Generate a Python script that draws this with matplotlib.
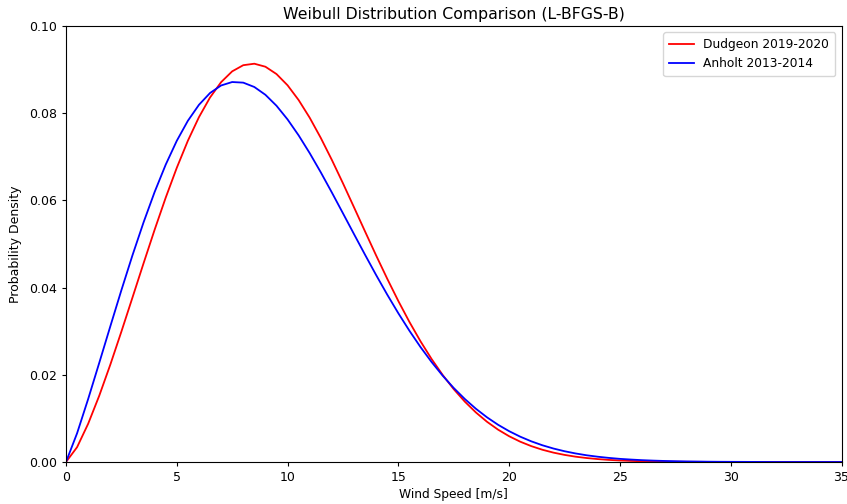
import numpy as np
import matplotlib
matplotlib.use("Agg")
import matplotlib.pyplot as plt

# Wind speed grid [m/s]
wind_speed = [i * 0.5 for i in range(71)]

# Probability density values
dudgeon = [0,0.0034,0.00877,0.0152,0.02233,0.02991,0.03772,0.04557,0.05327,0.06063,0.06748,0.07368,0.07909,0.0836,0.08712,0.0896,0.09101,0.09135,0.09066,0.08898,0.0864,0.08301,0.07895,0.07432,0.06927,0.06392,0.0584,0.05284,0.04734,0.04201,0.03691,0.03212,0.02768,0.02362,0.01996,0.0167,0.01384,0.01136,0.00923,0.00742,0.00591,0.00466,0.00364,0.00281,0.00215,0.00163,0.00122,0.00091,0.00067,0.00048,0.00035,0.00025,0.00017,0.00012,0.00008,0.00006,0.00004,0.00003,0.00002,0.00001,0,0,0,0,0,0,0,0,0,0,0]
anholt = [0,0.00659,0.01445,0.02273,0.03112,0.03941,0.04741,0.05496,0.06193,0.0682,0.07367,0.07826,0.08192,0.08463,0.08636,0.08715,0.08701,0.08601,0.08422,0.08171,0.07857,0.07491,0.07083,0.06643,0.0618,0.05704,0.05225,0.0475,0.04285,0.03837,0.03411,0.0301,0.02636,0.02293,0.0198,0.01697,0.01445,0.01221,0.01025,0.00854,0.00707,0.00581,0.00474,0.00384,0.00309,0.00247,0.00196,0.00154,0.00121,0.00094,0.00072,0.00056,0.00042,0.00032,0.00024,0.00018,0.00013,0.0001,0.00007,0.00005,0.00004,0.00003,0.00002,0.00001,0,0,0,0,0,0,0]

labels = ['Dudgeon 2019-2020', 'Anholt 2013-2014']
title = 'Weibull Distribution Comparison (L-BFGS-B)'

W, H = 847, 504
fig = plt.figure(figsize=(W/100, H/100), dpi=100)
ax = fig.add_axes([66/W, 1-462/H, (841.5-66)/W, (462-26)/H])
ax.plot(wind_speed, dudgeon, color='red', lw=1.3, label=labels[0])
ax.plot(wind_speed, anholt, color='blue', lw=1.3, label=labels[1])
ax.set_xlim(0, 35)
ax.set_ylim(0, 0.1)
ax.set_title(title, fontsize=11.3, pad=5)
ax.set_xlabel('Wind Speed [m/s]', fontsize=8.8, labelpad=3)
ax.set_ylabel('Probability Density', fontsize=9, labelpad=5)
ax.tick_params(labelsize=9, length=3, width=0.8)
for s in ax.spines.values():
    s.set_linewidth(0.8)
ax.legend(loc='upper right', fontsize=8.8, handlelength=2.0, borderpad=0.5)
fig.savefig('out.png', dpi=100)
